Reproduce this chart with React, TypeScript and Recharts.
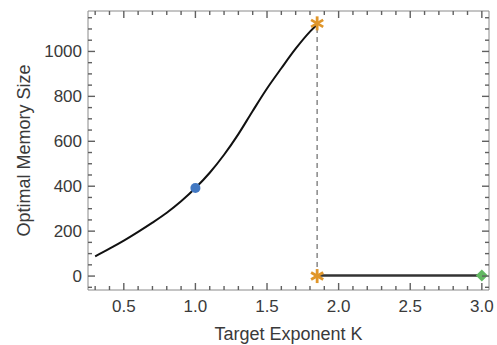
import React from 'react';
import { ComposedChart, Line, XAxis, YAxis } from 'recharts';

// exponent K vs optimal memory size
const curveK = [0.3, 0.4, 0.5, 0.6, 0.7, 0.8, 0.9, 1.0, 1.1, 1.2, 1.3, 1.4, 1.5, 1.6, 1.7, 1.8, 1.85];
const curveSize = [88, 122, 158, 197, 238, 282, 333, 392, 460, 540, 632, 735, 835, 925, 1012, 1088, 1120];

const flatK = [1.85, 3.0];
const flatSize = [2, 2];

const thresholdK = [1.85, 1.85];
const thresholdSize = [0, 1125];

const blueK = [1.0];
const blueSize = [392];
const greenK = [3.0];
const greenSize = [2];

const xTicks = [0.3, 0.4, 0.5, 0.6, 0.7, 0.8, 0.9, 1.0, 1.1, 1.2, 1.3, 1.4, 1.5, 1.6, 1.7, 1.8, 1.9, 2.0, 2.1, 2.2, 2.3, 2.4, 2.5, 2.6, 2.7, 2.8, 2.9, 3.0];
const xMajor = [0.5, 1.0, 1.5, 2.0, 2.5, 3.0];
const yTicks = [-50, 0, 50, 100, 150, 200, 250, 300, 350, 400, 450, 500, 550, 600, 650, 700, 750, 800, 850, 900, 950, 1000, 1050, 1100, 1150];
const yMajor = [0, 200, 400, 600, 800, 1000];

const xTitle = 'Target Exponent K';
const yTitle = 'Optimal Memory Size';

const X_DOMAIN = [0.25, 3.05];
const Y_DOMAIN = [-62, 1180];
// axis titles sit at the middle of each axis
const X_MID = (X_DOMAIN[0] + X_DOMAIN[1]) / 2;
const Y_MID = (Y_DOMAIN[0] + Y_DOMAIN[1]) / 2;

const toRows = (ks: number[], vs: number[]) => ks.map((k, i) => ({ k, v: vs[i] }));

const curveData = toRows(curveK, curveSize);
const flatData = toRows(flatK, flatSize);
const thresholdData = toRows(thresholdK, thresholdSize);
const blueData = toRows(blueK, blueSize);
const greenData = toRows(greenK, greenSize);

// layout
const W = 497;
const H = 345;
const MARGIN = { top: 10, right: 2, bottom: 0, left: 8 };
const LEFT_W = 80;
const RIGHT_W = 6;
const TOP_H = 1;
const BOTTOM_H = 55;
const PLOT_LEFT = MARGIN.left + LEFT_W;
const PLOT_BOTTOM = H - MARGIN.bottom - BOTTOM_H;

const FRAME = '#8a8a8a';
const TICK = '#606060';
const TEXT = '#3a3a3a';
const FONT = '"Liberation Sans", Arial, sans-serif';
const ORANGE = '#e0962a';
const MAJOR_LEN = 7;
const MINOR_LEN = 4;
const TICK_W = 1.4;

const isMajor = (v: number, list: number[]) => list.some((m) => Math.abs(m - v) < 1e-6);

const BottomTick = (props: any) => {
  const { x, y, payload } = props;
  if (Math.abs(payload.value - X_MID) < 1e-6) {
    return (
      <text x={x} y={y + 50} textAnchor='middle' fill={TEXT} fontSize={18} fontFamily={FONT}>
        {xTitle}
      </text>
    );
  }
  if (!isMajor(payload.value, xMajor)) return <g />;
  return (
    <text x={x} y={y + 22} textAnchor='middle' fill={TEXT} fontSize={17} fontFamily={FONT}>
      {payload.value.toFixed(1)}
    </text>
  );
};

// top axis draws the inward ticks for both the top and bottom frame edges
const TopTick = (props: any) => {
  const { x, y, payload } = props;
  const len = isMajor(payload.value, xMajor) ? MAJOR_LEN : MINOR_LEN;
  return (
    <g>
      <line x1={x} x2={x} y1={y} y2={y + len} stroke={TICK} strokeWidth={TICK_W} />
      <line x1={x} x2={x} y1={PLOT_BOTTOM} y2={PLOT_BOTTOM - len} stroke={TICK} strokeWidth={TICK_W} />
    </g>
  );
};

const LeftTick = (props: any) => {
  const { x, y, payload } = props;
  if (Math.abs(payload.value - Y_MID) < 1e-6) {
    const tx = x - 64;
    return (
      <text
        x={tx}
        y={y}
        transform={`rotate(-90, ${tx}, ${y})`}
        textAnchor='middle'
        dominantBaseline='central'
        fill={TEXT}
        fontSize={18}
        fontFamily={FONT}
      >
        {yTitle}
      </text>
    );
  }
  if (!isMajor(payload.value, yMajor)) return <g />;
  return (
    <text x={x - 6} y={y + 6} textAnchor='end' fill={TEXT} fontSize={17} fontFamily={FONT}>
      {payload.value}
    </text>
  );
};

// right axis draws the inward ticks for both the right and left frame edges
const RightTick = (props: any) => {
  const { x, y, payload } = props;
  const len = isMajor(payload.value, yMajor) ? MAJOR_LEN : MINOR_LEN;
  return (
    <g>
      <line x1={x} x2={x - len} y1={y} y2={y} stroke={TICK} strokeWidth={TICK_W} />
      <line x1={PLOT_LEFT} x2={PLOT_LEFT + len} y1={y} y2={y} stroke={TICK} strokeWidth={TICK_W} />
    </g>
  );
};

// Mathematica-style asterisk marker
const StarDot = (props: any) => {
  const { cx, cy, index } = props;
  const r = 7;
  const arms = [90, 30, 150];
  return (
    <g key={`star-${index}`}>
      {arms.map((a) => {
        const rad = (a * Math.PI) / 180;
        const dx = r * Math.cos(rad);
        const dy = r * Math.sin(rad);
        return (
          <line key={a} x1={cx - dx} y1={cy - dy} x2={cx + dx} y2={cy + dy} stroke={ORANGE} strokeWidth={2.8} strokeLinecap='butt' />
        );
      })}
    </g>
  );
};

const DiamondDot = (props: any) => {
  const { cx, cy, index } = props;
  const r = 6;
  return (
    <polygon
      key={`dia-${index}`}
      points={`${cx},${cy - r} ${cx + r},${cy} ${cx},${cy + r} ${cx - r},${cy}`}
      fill='#62b862'
    />
  );
};

const CircleDot = (props: any) => {
  const { cx, cy, index } = props;
  return <circle key={`c-${index}`} cx={cx} cy={cy} r={5} fill='#4278c2' />;
};

export default function App() {
  return (
    <div style={{ position: 'absolute', left: 0, top: 0, background: '#fff' }}>
      <ComposedChart width={W} height={H} margin={MARGIN}>
        <XAxis
          xAxisId={0}
          dataKey='k'
          type='number'
          domain={X_DOMAIN}
          ticks={[...xTicks, X_MID]}
          interval={0}
          tickSize={0}
          tickMargin={0}
          tick={<BottomTick />}
          axisLine={{ stroke: FRAME }}
          tickLine={false}
          height={BOTTOM_H}
          allowDataOverflow
        />
        <XAxis
          xAxisId='top'
          orientation='top'
          dataKey='k'
          type='number'
          domain={X_DOMAIN}
          ticks={xTicks}
          interval={0}
          tickSize={0}
          tickMargin={0}
          tick={<TopTick />}
          axisLine={{ stroke: FRAME }}
          tickLine={false}
          height={TOP_H}
          allowDataOverflow
        />
        <YAxis
          yAxisId={0}
          dataKey='v'
          type='number'
          domain={Y_DOMAIN}
          ticks={[...yTicks, Y_MID]}
          interval={0}
          tickSize={0}
          tickMargin={0}
          tick={<LeftTick />}
          axisLine={{ stroke: FRAME }}
          tickLine={false}
          width={LEFT_W}
          allowDataOverflow
        />
        <YAxis
          yAxisId='right'
          orientation='right'
          dataKey='v'
          type='number'
          domain={Y_DOMAIN}
          ticks={yTicks}
          interval={0}
          tickSize={0}
          tickMargin={0}
          tick={<RightTick />}
          axisLine={{ stroke: FRAME }}
          tickLine={false}
          width={RIGHT_W}
          allowDataOverflow
        />

        {/* invisible copy so the top/right frame axes get a scale and draw ticks */}
        <Line
          data={curveData}
          xAxisId='top'
          yAxisId='right'
          dataKey='v'
          stroke='none'
          dot={false}
          activeDot={false}
          isAnimationActive={false}
        />
        <Line data={curveData} dataKey='v' type='monotone' stroke='#111' strokeWidth={2} dot={false} isAnimationActive={false} />
        <Line data={flatData} dataKey='v' type='linear' stroke='#333' strokeWidth={2.5} dot={false} isAnimationActive={false} />
        <Line
          data={thresholdData}
          dataKey='v'
          type='linear'
          stroke='#888'
          strokeWidth={1.5}
          strokeDasharray='5 4'
          dot={false}
          isAnimationActive={false}
        />
        <Line data={blueData} dataKey='v' stroke='none' dot={<CircleDot />} activeDot={false} isAnimationActive={false} />
        <Line data={greenData} dataKey='v' stroke='none' dot={<DiamondDot />} activeDot={false} isAnimationActive={false} />
        <Line data={thresholdData} dataKey='v' stroke='none' dot={<StarDot />} activeDot={false} isAnimationActive={false} />
      </ComposedChart>
    </div>
  );
}
